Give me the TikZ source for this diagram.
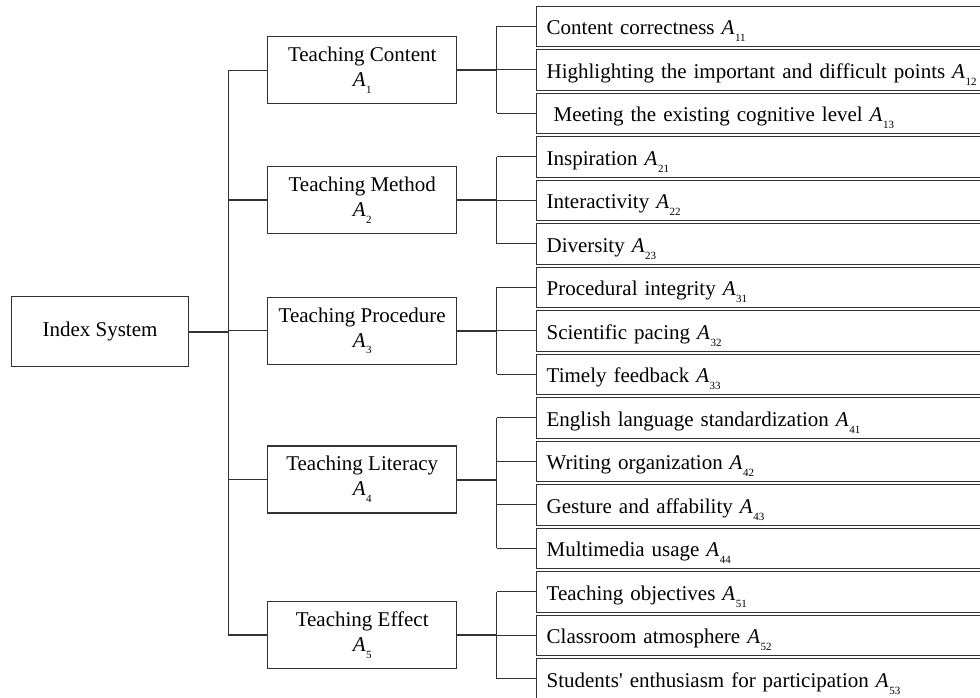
\documentclass[tikz,border=0pt]{standalone}
\usepackage{fontspec}
\setmainfont{Liberation Serif}
\usepackage{xcolor}
\usetikzlibrary{positioning}
\usetikzlibrary{calc}

\definecolor{inkgray}{HTML}{333333}
\newcommand{\Aidx}[1]{\textit{A}\kern0.5pt\raisebox{-0.32em}{\fontsize{11}{11}\selectfont #1}}

\begin{document}
\begin{tikzpicture}[
		x=1pt,
		y=-1pt,
		font=\fontsize{21pt}{25pt}\selectfont,
		line width=1.1,
		draw=inkgray,
	]
		\tikzset{rootbox/.style={
			draw=inkgray,
			rectangle,
			minimum width=176.5,
			minimum height=70,
			inner sep=0,
		}}
		\tikzset{catbox/.style={
			draw=inkgray,
			rectangle,
			minimum width=189,
			minimum height=67,
			inner sep=0,
			align=center,
		}}
		\tikzset{leafbox/.style={
			draw=inkgray,
			rectangle,
			line width=1.3,
			minimum height=40.5,
			inner xsep=10,
			inner ysep=0,
			text height=21,
			text depth=4,
			text width=434,
			align=left,
		}}
		\tikzset{link/.style={draw=inkgray, line width=1.1}}
		\tikzset{stem/.style={draw=inkgray, line width=2}}

		\useasboundingbox (0,0) rectangle (980,697);
		\clip (0,0) rectangle (980,697);

		% root and first level
		\node[rootbox] (root) at (100,331.7) {Index System};

		\node[catbox] (a1) at (362.2,70.3) {Teaching Content\\\Aidx{1}};
		\node[catbox] (a2) at (362.2,200) {Teaching Method\\\Aidx{2}};
		\node[catbox] (a3) at (362.2,330.7) {Teaching Procedure\\\Aidx{3}};
		\node[catbox] (a4) at (362.2,479.5) {Teaching Literacy\\\Aidx{4}};
		\node[catbox] (a5) at (362.2,635) {Teaching Effect\\\Aidx{5}};

		% second level
		\node[leafbox, anchor=north west] (a11) at (536,5.5) {Content correctness \Aidx{11}};
		\node[leafbox, anchor=north west, yshift=-1.7] (a12) at (a11.south west) {Highlighting the important and difficult points \Aidx{12}};
		\node[leafbox, anchor=north west, yshift=-1.7] (a13) at (a12.south west) {\ Meeting the existing cognitive level \Aidx{13}};
		\node[leafbox, anchor=north west, yshift=-1.7] (a21) at (a13.south west) {Inspiration \Aidx{21}};
		\node[leafbox, anchor=north west, yshift=-1.7] (a22) at (a21.south west) {Interactivity \Aidx{22}};
		\node[leafbox, anchor=north west, yshift=-1.7] (a23) at (a22.south west) {Diversity \Aidx{23}};
		\node[leafbox, anchor=north west, yshift=-1.7] (a31) at (a23.south west) {Procedural integrity \Aidx{31}};
		\node[leafbox, anchor=north west, yshift=-1.7] (a32) at (a31.south west) {Scientific pacing \Aidx{32}};
		\node[leafbox, anchor=north west, yshift=-1.7] (a33) at (a32.south west) {Timely feedback \Aidx{33}};
		\node[leafbox, anchor=north west, yshift=-1.7] (a41) at (a33.south west) {English language standardization \Aidx{41}};
		\node[leafbox, anchor=north west, yshift=-1.7] (a42) at (a41.south west) {Writing organization \Aidx{42}};
		\node[leafbox, anchor=north west, yshift=-1.7] (a43) at (a42.south west) {Gesture and affability \Aidx{43}};
		\node[leafbox, anchor=north west, yshift=-1.7] (a44) at (a43.south west) {Multimedia usage \Aidx{44}};
		\node[leafbox, anchor=north west, yshift=-1.7] (a51) at (a44.south west) {Teaching objectives \Aidx{51}};
		\node[leafbox, anchor=north west, yshift=-1.7] (a52) at (a51.south west) {Classroom atmosphere \Aidx{52}};
		\node[leafbox, anchor=north west, yshift=-1.7] (a53) at (a52.south west) {Students\textquotesingle{} enthusiasm for participation \Aidx{53}};

		% trunk
		\coordinate (trunk) at (228.3,0);
		\draw[stem] (root.east) -- (root.east -| trunk);
		\draw[link] (a1.west -| trunk) -- (a5.west -| trunk);
		\draw[link] (a1.west) -- (a1.west -| trunk);
		\draw[link] (a2.west) -- (a2.west -| trunk);
		\draw[link] (a3.west) -- (a3.west -| trunk);
		\draw[link] (a4.west) -- (a4.west -| trunk);
		\draw[link] (a5.west) -- (a5.west -| trunk);

		% branches
		\coordinate (branch) at (496.7,0);
		\draw[stem] (a1.east) -- (a1.east -| branch);
		\draw[link] (a11.west -| branch) -- (a13.west -| branch);
		\draw[link] (a11.west) -- (a11.west -| branch);
		\draw[link] (a12.west) -- (a12.west -| branch);
		\draw[link] (a13.west) -- (a13.west -| branch);

		\draw[stem] (a2.east) -- (a2.east -| branch);
		\draw[link] (a21.west -| branch) -- (a23.west -| branch);
		\draw[link] (a21.west) -- (a21.west -| branch);
		\draw[link] (a22.west) -- (a22.west -| branch);
		\draw[link] (a23.west) -- (a23.west -| branch);

		\draw[stem] (a3.east) -- (a3.east -| branch);
		\draw[link] (a31.west -| branch) -- (a33.west -| branch);
		\draw[link] (a31.west) -- (a31.west -| branch);
		\draw[link] (a32.west) -- (a32.west -| branch);
		\draw[link] (a33.west) -- (a33.west -| branch);

		\draw[stem] (a4.east) -- (a4.east -| branch);
		\draw[link] (a41.west -| branch) -- (a44.west -| branch);
		\draw[link] (a41.west) -- (a41.west -| branch);
		\draw[link] (a42.west) -- (a42.west -| branch);
		\draw[link] (a43.west) -- (a43.west -| branch);
		\draw[link] (a44.west) -- (a44.west -| branch);

		\draw[stem] (a5.east) -- (a5.east -| branch);
		\draw[link] (a51.west -| branch) -- (a53.west -| branch);
		\draw[link] (a51.west) -- (a51.west -| branch);
		\draw[link] (a52.west) -- (a52.west -| branch);
		\draw[link] (a53.west) -- (a53.west -| branch);
	\end{tikzpicture}
\end{document}
